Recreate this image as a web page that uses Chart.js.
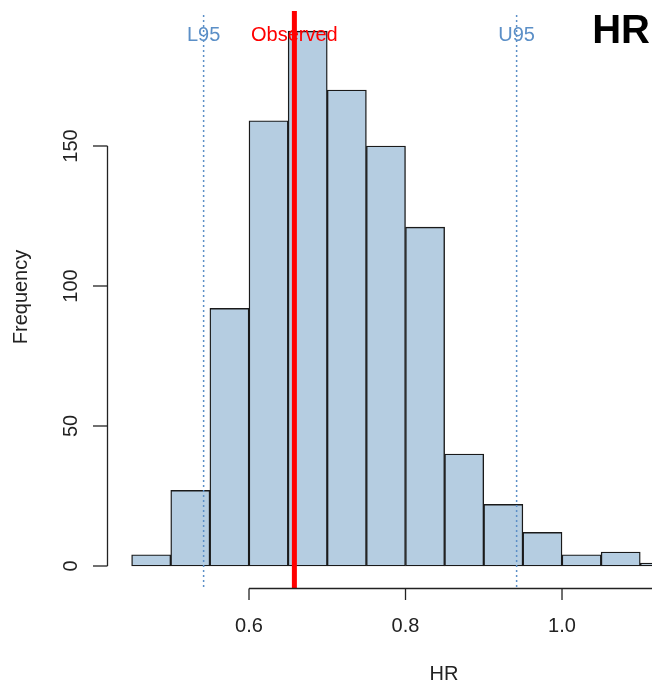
<!DOCTYPE html>
<html><head><meta charset="utf-8">
<script src="https://cdn.jsdelivr.net/npm/chart.js@4/dist/chart.umd.min.js"></script>
<style>html,body{margin:0;padding:0;background:#fff}#wrap{width:652px;height:682px;position:relative}</style>
</head><body><div id="wrap"><canvas id="c" width="652" height="682"></canvas></div>
<script>
// ---- data ----
const binStarts = [0.45,0.50,0.55,0.60,0.65,0.70,0.75,0.80,0.85,0.90,0.95,1.00,1.05,1.10];
const counts    = [4,27,92,159,191,170,150,121,40,22,12,4,5,1];
const binWidth = 0.05;
const xTicks = [0.6,0.8,1.0];
const xTickLabels = ['0.6','0.8','1.0'];
const yTicks = [0,50,100,150];
const yTickLabels = ['0','50','100','150'];
const refNames  = ['L95','Observed','U95'];
const refValues = [0.542,0.658,0.942];
const xTitle = 'HR';
const yTitle = 'Frequency';
const panelTitle = 'HR';

const FONT = '"Liberation Sans", Arial, Helvetica, sans-serif';
const refColors = ['#5b8fc7','#ff0000','#5b8fc7'];

const barData = binStarts.map((s,i)=>({x: s + binWidth/2, y: counts[i]}));

const decor = {
  id:'decor',
  afterDatasetsDraw(chart){
    const ctx = chart.ctx, xs = chart.scales.x, ys = chart.scales.y;
    ctx.save();
    // reference lines
    refValues.forEach((v,i)=>{
      const px = xs.getPixelForValue(v);
      ctx.beginPath();
      if (refNames[i]==='Observed'){
        ctx.strokeStyle='#ff0000'; ctx.lineWidth=5; ctx.setLineDash([]);
        ctx.moveTo(px,11); ctx.lineTo(px,588);
      } else {
        ctx.strokeStyle=refColors[i]; ctx.lineWidth=1.5; ctx.setLineDash([2,3]);
        ctx.moveTo(px,15); ctx.lineTo(px,588);
      }
      ctx.stroke();
    });
    ctx.setLineDash([]);
    ctx.font = '20px '+FONT; ctx.textAlign='center'; ctx.textBaseline='alphabetic';
    refValues.forEach((v,i)=>{
      const px = xs.getPixelForValue(v);
      ctx.fillStyle = refColors[i];
      ctx.fillText(refNames[i], px, 41);
    });
    ctx.restore();
  },
  afterDraw(chart){
    const ctx = chart.ctx, xs = chart.scales.x, ys = chart.scales.y;
    ctx.save();
    ctx.strokeStyle='#222'; ctx.lineWidth=1.3; ctx.fillStyle='#222';
    // x axis
    const ay = 588.5;
    const x0 = xs.getPixelForValue(xTicks[0]);
    ctx.beginPath(); ctx.moveTo(x0,ay); ctx.lineTo(chart.width,ay); ctx.stroke();
    ctx.font='20px '+FONT; ctx.textAlign='center'; ctx.textBaseline='alphabetic';
    xTicks.forEach((t,i)=>{
      const px = xs.getPixelForValue(t);
      ctx.beginPath(); ctx.moveTo(px,ay); ctx.lineTo(px,600); ctx.stroke();
      ctx.fillText(xTickLabels[i], px, 632);
    });
    // y axis
    const ax = 107.5;
    const yTop = ys.getPixelForValue(yTicks[yTicks.length-1]);
    const yBot = ys.getPixelForValue(yTicks[0]);
    ctx.beginPath(); ctx.moveTo(ax,yTop); ctx.lineTo(ax,yBot); ctx.stroke();
    yTicks.forEach((t,i)=>{
      const py = ys.getPixelForValue(t);
      ctx.beginPath(); ctx.moveTo(93,py); ctx.lineTo(ax,py); ctx.stroke();
      ctx.save(); ctx.translate(77,py); ctx.rotate(-Math.PI/2);
      ctx.fillText(yTickLabels[i],0,0); ctx.restore();
    });
    // axis titles
    ctx.fillText(xTitle, 444, 680);
    ctx.save(); ctx.translate(27,297); ctx.rotate(-Math.PI/2);
    ctx.fillText(yTitle,0,0); ctx.restore();
    // panel title
    ctx.fillStyle='#000'; ctx.font='bold 40px '+FONT; ctx.textAlign='right';
    ctx.fillText(panelTitle, 650, 43);
    ctx.restore();
  }
};

new Chart(document.getElementById('c'), {
  type:'bar',
  data:{ datasets:[{
    data: barData,
    backgroundColor:'#b5cde1',
    borderColor:'#1a1a1a',
    borderWidth:1.4,
    borderSkipped:false,
    barPercentage:1.0,
    categoryPercentage:1.0
  }]},
  options:{
    responsive:false,
    animation:false,
    devicePixelRatio:1,
    layout:{padding:{left:14.25,right:0,top:0,bottom:88}},
    plugins:{legend:{display:false},tooltip:{enabled:false},title:{display:false}},
    scales:{
      x:{type:'linear',min:0.3,max:1.115,display:false,offset:false},
      y:{type:'linear',min:-10,max:202.14,display:false}
    }
  },
  plugins:[decor]
});
</script></body></html>
